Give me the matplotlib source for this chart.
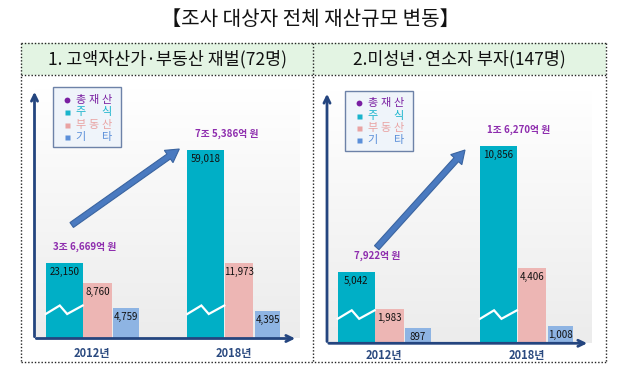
import matplotlib
matplotlib.use('Agg')
import matplotlib.pyplot as plt
import numpy as np
from matplotlib.patches import Rectangle, FancyArrow

plt.rcParams['font.family'] = ['Noto Sans CJK KR', 'DejaVu Sans']

# ---------------- data ----------------
title = '【조사 대상자 전체 재산규모 변동】'
panel_titles = ['1. 고액자산가·부동산 재벌(72명)', '2.미성년·연소자 부자(147명)']
years = ['2012년', '2018년']
legend_rows = [['총', '재', '산'], ['주', '', '식'], ['부', '동', '산'], ['기', '', '타']]
p1_stock = [23150, 59018]
p1_realestate = [8760, 11973]
p1_other = [4759, 4395]
p2_stock = [5042, 10856]
p2_realestate = [1983, 4406]
p2_other = [897, 1008]

# ---------------- style ----------------
W, H = 619, 376
C_STOCK = '#00AFC6'
C_RE = '#EDB6B4'
C_OTH = '#8EB4E3'
C_TOTAL = '#8E2DAE'
C_AXIS = '#24457F'
C_ARROW = '#4A7AC0'
leg_colors = ['#7A1FA2', '#19B4CC', '#E9A3A3', '#5B8FD9']

fig = plt.figure(figsize=(W / 100, H / 100), dpi=100)
bg = fig.add_axes([0, 0, 1, 1], zorder=0)
bg.set_xlim(0, W); bg.set_ylim(H, 0); bg.axis('off')
ov = fig.add_axes([0, 0, 1, 1], zorder=3)
ov.set_xlim(0, W); ov.set_ylim(H, 0); ov.axis('off'); ov.patch.set_alpha(0)

# title
bg.text(310, 19, title, ha='center', va='center', fontsize=14.5, color='#111111')

# header band + dotted frame
bg.add_patch(Rectangle((21, 43), 585, 32, fc='#E3F4E3', ec='none'))
dot = dict(color='#222222', lw=1.0, linestyle=(0, (1, 1.4)))
bg.plot([21, 606], [43, 43], **dot)
bg.plot([21, 606], [75, 75], **dot)
bg.plot([21, 606], [362, 362], **dot)
bg.plot([21, 21], [43, 362], **dot)
bg.plot([606, 606], [43, 362], **dot)
bg.plot([313, 313], [43, 362], **dot)
bg.text(167.5, 59, panel_titles[0], ha='center', va='center', fontsize=12.5, color='#111111')
bg.text(459, 59, panel_titles[1], ha='center', va='center', fontsize=12.5, color='#111111')

# stock bars use a broken axis: shown = brk_a + brk_b * value
panels = [
    dict(stock=p1_stock, re=p1_realestate, oth=p1_other, x0=34.5, y0=338.5, ytop=89,
         xr=298, bgr=299, ppk=6.32, brk_a=385, brk_b=0.5, groups=[45.7, 187.3], leg=(52.7, 87.3),
         arrow=((71.7, 225), (179.3, 149)), ylab=353.5),
    dict(stock=p2_stock, re=p2_realestate, oth=p2_other, x0=327, y0=343.3, ytop=91,
         xr=590, bgr=592, ppk=17.17, brk_a=-2163, brk_b=1.256, groups=[337.7, 480.0], leg=(345, 90.7),
         arrow=((376.7, 247.7), (465, 150)), ylab=355),
]

for p in panels:
    x0, y0, ytop, xr = p['x0'], p['y0'], p['ytop'], p['xr']
    # gradient background
    grad = np.linspace(1.0, 0.925, 100)[:, None] * np.ones((1, 2))
    bg.imshow(np.dstack([grad, grad, grad]), extent=(x0, p['bgr'], y0, ytop),
              origin='upper', aspect='auto', interpolation='bilinear', zorder=1)

    # bar axes in pixel x / value y
    ax = fig.add_axes([x0 / W, (H - y0) / H, (xr - x0) / W, (y0 - ytop) / H], zorder=2)
    ax.patch.set_alpha(0)
    ax.axis('off')
    ax.set_xlim(x0, xr)
    ax.set_ylim(0, (y0 - ytop) / p['ppk'] * 1000)

    for i, g in enumerate(p['groups']):
        s_val, r_val, o_val = p['stock'][i], p['re'][i], p['oth'][i]
        s_h = p['brk_a'] + p['brk_b'] * s_val  # broken stock bar
        specs = [(g, 37.0, s_h, s_val, C_STOCK),
                 (g + 37.5, 28.5, r_val, r_val, C_RE),
                 (g + 67.5, 25.5, o_val, o_val, C_OTH)]
        for left, w, hgt, val, col in specs:
            ax.bar(left, hgt, width=w, align='edge', color=col, edgecolor='none')
            ax.annotate(f'{val:,}', xy=(left + w / 2, hgt), xytext=(0, -6.5),
                        textcoords='offset points', ha='center', va='center',
                        fontsize=7, color='#111111')
        # break zigzag on stock bar
        xs = [g, g + 0.38 * 37, g + 0.58 * 37, g + 37]
        ys = [y0 - 24.5, y0 - 33, y0 - 24.5, y0 - 33]
        ov.plot(xs, ys, color='white', lw=1.6, solid_joinstyle='miter')
        total = s_val + r_val + o_val
        if total >= 10000:
            tl = f'{total // 10000}조 {total % 10000:,}억 원'
        else:
            tl = f'{total:,}억 원'
        ax.annotate(tl, xy=(g + 39, s_h), xytext=(0, 11.5), textcoords='offset points',
                    ha='center', va='center', fontsize=7, color=C_TOTAL, fontweight='bold')
        ov.text(g + 46.5, p['ylab'], years[i], ha='center', va='center', fontsize=8,
                color='#2B4A80', fontweight='bold')

    # axes arrows
    ov.annotate('', xy=(x0, ytop), xytext=(x0, y0 + 1),
                arrowprops=dict(arrowstyle='->,head_length=0.45,head_width=0.22', color=C_AXIS, lw=2.0))
    ov.annotate('', xy=(xr, y0), xytext=(x0 - 1, y0),
                arrowprops=dict(arrowstyle='->,head_length=0.45,head_width=0.22', color=C_AXIS, lw=2.0))

    # big trend arrow
    (ax1, ay1), (ax2, ay2) = p['arrow']
    ov.add_patch(FancyArrow(ax1, ay1, ax2 - ax1, ay2 - ay1, width=6, head_width=15,
                            head_length=13, length_includes_head=True,
                            fc=C_ARROW, ec='#3A64A0', lw=0.8))

    # legend box
    lx, ly = p['leg']
    ov.add_patch(Rectangle((lx, ly), 68, 60, fc='#EFF4FA', ec='#6D82A8', lw=1.0))
    for r, row in enumerate(legend_rows):
        yy = ly + 12.7 + r * 12.3
        col = leg_colors[r]
        ov.plot([lx + 14], [yy], marker='o' if r == 0 else 's', ms=4.2 if r == 0 else 3.6,
                color=col, mec='none')
        for c, ch in enumerate(row):
            if ch:
                ov.text(lx + 27.5 + c * 13, yy, ch, ha='center', va='center', fontsize=8,
                        color=col)

fig.savefig('out.png', dpi=100)
